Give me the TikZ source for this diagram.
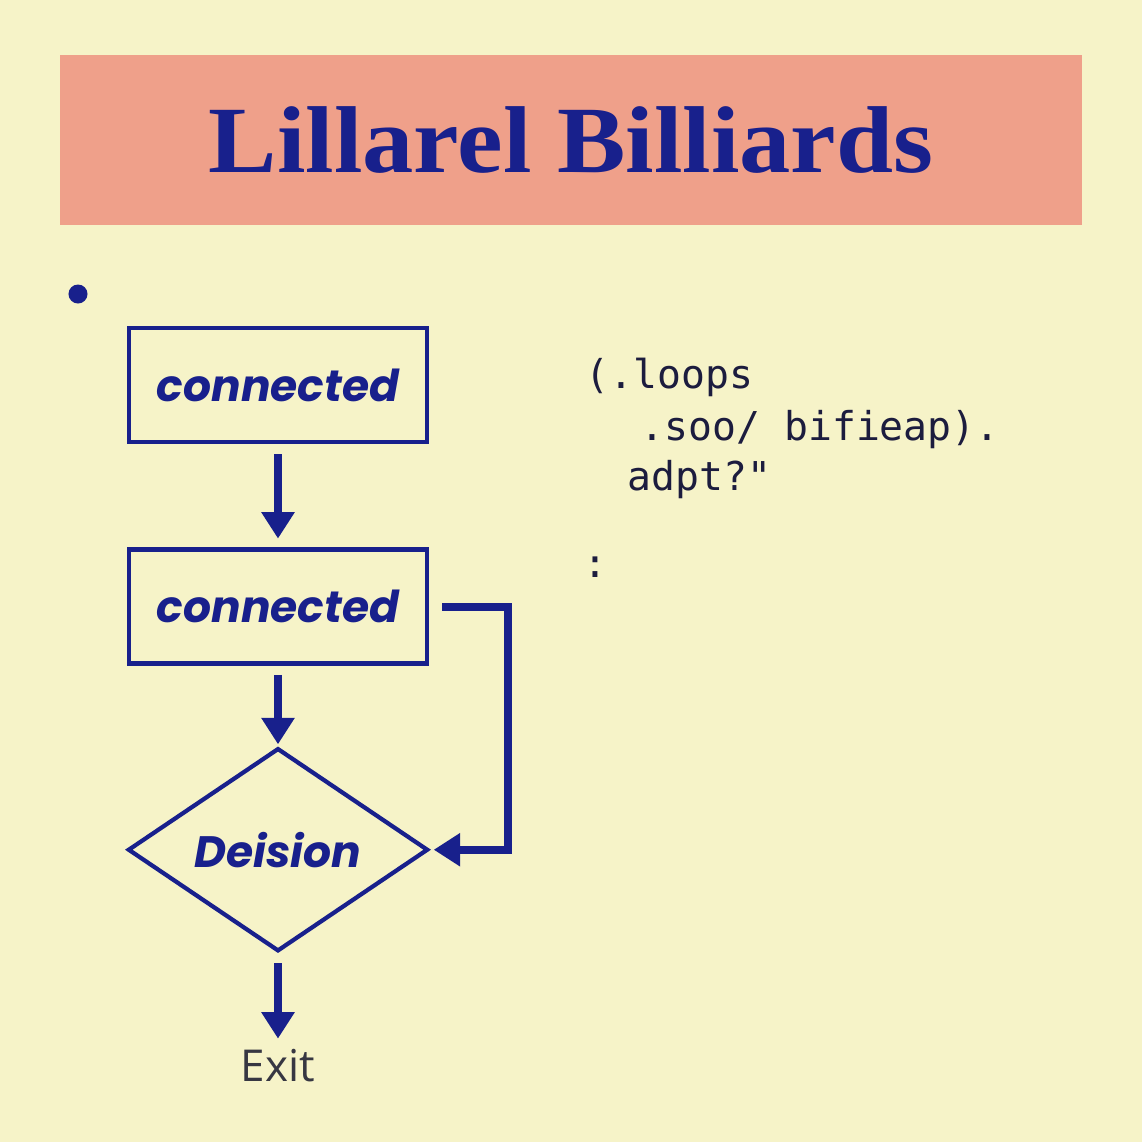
\documentclass[tikz,border=0pt]{standalone}
\usepackage{fontspec}
\setmainfont{Open Sans}
\newfontfamily\titlefont{Liberation Serif}
\newfontfamily\boxfont{Poppins}
\newfontfamily\codefont{DejaVu Sans Mono}
\usetikzlibrary{positioning,arrows.meta,shapes.geometric,calc}
\definecolor{lbcream}{RGB}{246,243,200}
\definecolor{lbsalmon}{RGB}{239,160,138}
\definecolor{lbnavy}{RGB}{24,32,140}
\definecolor{lbink}{RGB}{28,28,62}
\definecolor{lbgray}{RGB}{55,55,66}
\tikzset{
  band/.style={fill=lbsalmon, minimum width=10.22cm, minimum height=1.7cm, text=lbnavy, font=\titlefont\bfseries\fontsize{27pt}{32pt}\selectfont},
  box/.style={draw=lbnavy, line width=1.3pt, minimum width=2.98cm, minimum height=1.14cm, text=lbnavy, font=\boxfont\bfseries\itshape\fontsize{12.5pt}{15pt}\selectfont},
  decbox/.style={diamond, aspect=1.5, draw=lbnavy, line width=1.2pt, minimum width=3cm, minimum height=2.03cm, inner sep=0pt, text=lbnavy, font=\boxfont\bfseries\itshape\fontsize{12.5pt}{15pt}\selectfont},
  code/.style={anchor=base west, inner sep=0pt, text=lbink, font=\codefont\fontsize{11.3pt}{14pt}\selectfont},
  endtext/.style={inner sep=0pt, text=lbgray, font=\fontsize{12.5pt}{15pt}\selectfont},
  arrow/.style={-{Triangle[length=7.5pt,width=9pt]}, line width=2.2pt, lbnavy}
}
\begin{document}
\begin{tikzpicture}[x=0.01cm, y=-0.01cm, node distance=1.03cm]
    \fill[lbcream] (0,0) rectangle (1142,1142);
    \node[band] (title) at (571,140) {\scalebox{1.08}[1]{Lillarel Billiards}};
    \node[circle, fill=lbnavy, minimum size=0.19cm, inner sep=0pt] (dot) at (78,294) {};
    % flow on the left
    \node[box] (c1) at (278,385) {connected};
    \node[box, below=of c1] (c2) {connected};
    \node[decbox, below=0.8cm of c2] (dec) {Deision};
    \node[endtext, below=0.95cm of dec] (exit) {Exit};
    \coordinate (loopx) at (508,608);
    \draw[arrow, shorten <=2.8pt, shorten >=2.5pt] (c1) -- (c2);
    \draw[arrow, shorten <=2.5pt, shorten >=0.5pt] (c2) -- (dec);
    \draw[arrow, shorten <=2.8pt, shorten >=2.8pt] (dec) -- (exit);
    \draw[arrow, shorten <=3.6pt, shorten >=1pt] (c2.east) -- (c2.east -| loopx) |- (dec.east);
    % code lines on the right
    \node[code] (l1) at (585,388) {(.loops};
    \node[code] (l2) at (640,440) {.soo/ bifieap).};
    \node[code] (l3) at (627,490) {adpt?"};
    \node[code] (colon) at (583,577) {:};
\end{tikzpicture}
\end{document}
